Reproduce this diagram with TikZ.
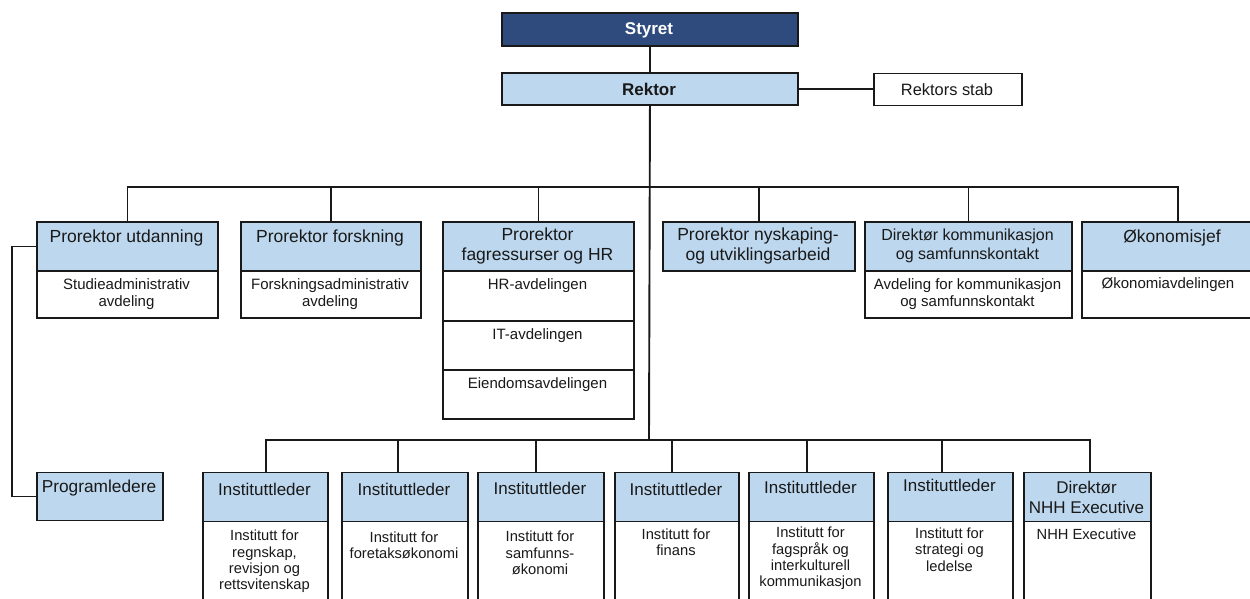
\documentclass[tikz,border=0pt]{standalone}
\usepackage{fontspec}
\setmainfont{Liberation Sans}
\definecolor{navy}{RGB}{47,75,125}
\definecolor{lblue}{RGB}{189,215,238}
\definecolor{ink}{RGB}{25,25,25}
\begin{document}
\begin{tikzpicture}[x=1pt,y=-1pt,
  box/.style={rectangle, draw=ink, line width=1.9pt, inner sep=0pt, anchor=north west},
  hdr/.style={box, fill=lblue},
  subbox/.style={box, fill=white},
  conn/.style={draw=ink, line width=1.9pt},
  ht/.style={inner sep=0pt, align=center, text=ink, font=\fontsize{17.5}{19.5}\selectfont},
  st/.style={inner sep=0pt, align=center, text=ink, font=\fontsize{15}{17}\selectfont},
  bst/.style={inner sep=0pt, align=center, text=ink, font=\fontsize{14.7}{16.4}\selectfont}
]
\useasboundingbox (0,0) rectangle (1250,598);
\clip (0,0) rectangle (1250,598);
\fill[white] (0,0) rectangle (1250,598);

% top
\node[box, fill=navy, minimum width=296pt, minimum height=33pt] (styret) at (501,12) {};
\node[hdr, minimum width=296pt, minimum height=32pt] (rektor) at (501,72) {};
\node[subbox, minimum width=148pt, minimum height=32pt] (stab) at (873,72.5) {};

% upper row
\node[hdr, minimum width=181pt, minimum height=49pt] (pu) at (36,221) {};
\node[subbox, minimum width=181pt, minimum height=47pt] (pus) at (36,270) {};
\node[hdr, minimum width=180pt, minimum height=49pt] (pf) at (240,221) {};
\node[subbox, minimum width=180pt, minimum height=47pt] (pfs) at (240,270) {};
\node[hdr, minimum width=191pt, minimum height=49pt] (fag) at (442,221) {};
\node[subbox, minimum width=191pt, minimum height=50pt] (fag1) at (442,270) {};
\node[subbox, minimum width=191pt, minimum height=49pt] (fag2) at (442,320) {};
\node[subbox, minimum width=191pt, minimum height=49pt] (fag3) at (442,369) {};
\node[hdr, minimum width=192pt, minimum height=49pt] (ny) at (662,221) {};
\node[hdr, minimum width=207pt, minimum height=49pt] (dk) at (864,221) {};
\node[subbox, minimum width=207pt, minimum height=47pt] (dks) at (864,270) {};
\node[hdr, minimum width=192pt, minimum height=49pt] (ok) at (1081,221) {};
\node[subbox, minimum width=192pt, minimum height=47pt] (oks) at (1081,270) {};

% lower row
\node[hdr, minimum width=126pt, minimum height=48pt] (pl) at (36,471.5) {};
\node[hdr, minimum width=125pt, minimum height=49pt] (b1) at (202,471.5) {};
\node[subbox, minimum width=125pt, minimum height=95pt] (b1s) at (202,520.5) {};
\node[hdr, minimum width=126pt, minimum height=49pt] (b2) at (341,471.5) {};
\node[subbox, minimum width=126pt, minimum height=95pt] (b2s) at (341,520.5) {};
\node[hdr, minimum width=126pt, minimum height=49pt] (b3) at (477,471.5) {};
\node[subbox, minimum width=126pt, minimum height=95pt] (b3s) at (477,520.5) {};
\node[hdr, minimum width=124pt, minimum height=49pt] (b4) at (614,471.5) {};
\node[subbox, minimum width=124pt, minimum height=95pt] (b4s) at (614,520.5) {};
\node[hdr, minimum width=125pt, minimum height=49pt] (b5) at (748,471.5) {};
\node[subbox, minimum width=125pt, minimum height=95pt] (b5s) at (748,520.5) {};
\node[hdr, minimum width=125pt, minimum height=49pt] (b6) at (887,471.5) {};
\node[subbox, minimum width=125pt, minimum height=95pt] (b6s) at (887,520.5) {};
\node[hdr, minimum width=127pt, minimum height=49pt] (b7) at (1023,471.5) {};
\node[subbox, minimum width=127pt, minimum height=95pt] (b7s) at (1023,520.5) {};

% connectors
\coordinate (topbus) at (649,187);
\coordinate (botbus) at (649,440);
\draw[conn] (styret.south) -- (rektor.north);
\draw[conn] (rektor.east) -- (rektor.east -| stab.west);
\draw[conn] (rektor.south) -- (botbus);
\draw[conn] (pu.north) |- (topbus) -| (ok.north);
\draw[conn] (pf.north) -- (pf.north |- topbus);
\draw[conn] (fag.north) -- (fag.north |- topbus);
\draw[conn] (ny.north) -- (ny.north |- topbus);
\draw[conn] (dk.north) -- (dk.north |- topbus);
\draw[conn] (pu.west) -- ++(-24,0) |- (pl.west);
\draw[conn] ([xshift=0.5pt]b1.north) |- (botbus) -| ([xshift=2.5pt]b7.north);
\draw[conn] ([xshift=-6.7pt]b2.north) -- ([xshift=-6.7pt]b2.north |- botbus);
\draw[conn] ([xshift=-5pt]b3.north) -- ([xshift=-5pt]b3.north |- botbus);
\draw[conn] ([xshift=-5.3pt]b4.north) -- ([xshift=-5.3pt]b4.north |- botbus);
\draw[conn] ([xshift=-4.5pt]b5.north) -- ([xshift=-4.5pt]b5.north |- botbus);
\draw[conn] ([xshift=-8.8pt]b6.north) -- ([xshift=-8.8pt]b6.north |- botbus);

% texts
\node[ht, text=white, font=\fontsize{17}{19}\selectfont\bfseries] (tstyret) at (649,30) {Styret};
\node[ht, font=\fontsize{17}{19}\selectfont\bfseries] (trektor) at (649,89) {Rektor};
\node[ht, font=\fontsize{16.4}{18}\selectfont] (tstab) at (947,89.5) {Rektors stab};

\node[ht] (tpu) at (126.5,238) {Prorektor utdanning};
\node[st] (tpus) at (126.5,294) {Studieadministrativ\\avdeling};
\node[ht] (tpf) at (330,238) {Prorektor forskning};
\node[st] (tpfs) at (330,294) {Forskningsadministrativ\\avdeling};
\node[ht] (tfag) at (537.5,246) {Prorektor\\fagressurser og HR};
\node[st] (tfag1) at (537.5,286) {HR-avdelingen};
\node[st] (tfag2) at (537.5,335.5) {IT-avdelingen};
\node[st] (tfag3) at (537.5,385) {Eiendomsavdelingen};
\node[ht] (tny) at (758,246) {Prorektor nyskaping-\\og utviklingsarbeid};
\node[ht, font=\fontsize{16}{19}\selectfont] (tdk) at (967.5,246) {Direktør kommunikasjon\\og samfunnskontakt};
\node[st] (tdks) at (967.5,294.5) {Avdeling for kommunikasjon\\og samfunnskontakt};
\node[ht] (tok) at (1172,238) {Økonomisjef};
\node[st] (toks) at (1168,285) {Økonomiavdelingen};

\node[ht, font=\fontsize{17.3}{19}\selectfont] (tpl) at (99,488) {Programledere};
\node[ht, font=\fontsize{17}{20}\selectfont] (tb1) at (264.5,489.5) {Instituttleder};
\node[ht, font=\fontsize{17}{20}\selectfont] (tb2) at (404,489.5) {Instituttleder};
\node[ht, font=\fontsize{17}{20}\selectfont] (tb3) at (540,488) {Instituttleder};
\node[ht, font=\fontsize{17}{20}\selectfont] (tb4) at (676,489.5) {Instituttleder};
\node[ht, font=\fontsize{17}{20}\selectfont] (tb5) at (810.5,487) {Instituttleder};
\node[ht, font=\fontsize{17}{20}\selectfont] (tb6) at (949.5,485.5) {Instituttleder};
\node[ht, font=\fontsize{17}{20}\selectfont] (tb7) at (1086.5,497.5) {Direktør\\NHH Executive};

\node[bst] (tb1s) at (264.5,561.5) {Institutt for\\regnskap,\\revisjon og\\rettsvitenskap};
\node[bst] (tb2s) at (404,545) {Institutt for\\foretaksøkonomi};
\node[bst] (tb3s) at (540,553) {Institutt for\\samfunns-\\økonomi};
\node[bst] (tb4s) at (676,542) {Institutt for\\finans};
\node[bst] (tb5s) at (810.5,558.5) {Institutt for\\fagspråk og\\interkulturell\\kommunikasjon};
\node[bst] (tb6s) at (949.5,549.5) {Institutt for\\strategi og\\ledelse};
\node[bst] (tb7s) at (1086.5,534) {NHH Executive};
\end{tikzpicture}
\end{document}
